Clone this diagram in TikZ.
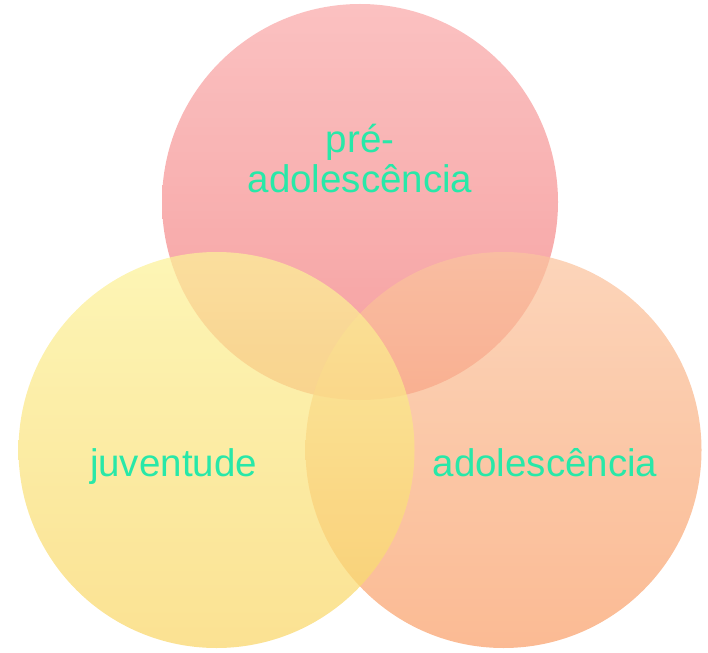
\documentclass[tikz,border=0pt]{standalone}
\usepackage{fontspec}
\setmainfont{Liberation Sans}
\usepackage{tikz}
\usetikzlibrary{shapes.geometric}
\definecolor{labelgreen}{RGB}{40,232,168}
\definecolor{pinktop}{RGB}{249,169,169}
\definecolor{pinkbot}{RGB}{242,122,122}
\definecolor{yellowtop}{RGB}{252,242,153}
\definecolor{yellowbot}{RGB}{249,214,104}
\definecolor{peachtop}{RGB}{251,196,159}
\definecolor{peachbot}{RGB}{249,160,106}
\tikzstyle{stage} = 
[
	circle, 
	minimum size = 396pt, 
	inner sep = 0pt, 
	fill opacity = 0.72
]
\tikzstyle{label} = 
	[
		text = labelgreen, 
		font = \fontsize{38.5}{40}\selectfont, 
		anchor = base, 
		inner sep = 0pt
	]

\begin{document}
\begin{tikzpicture}[x=1pt, y=-1pt]
	\useasboundingbox (0,0) rectangle (708,652);

	\node
	(PreAdolescencia)
	[
		stage,
		top color = pinktop,
		bottom color = pinkbot
	]
	at (360,202)
	{};

	\node
	(Adolescencia)
	[
		stage,
		top color = peachtop,
		bottom color = peachbot
	]
	at (503.5,450)
	{};

	\node
	(Juventude)
	[
		stage,
		top color = yellowtop,
		bottom color = yellowbot
	]
	at (216.5,450)
	{};

	\node
	(PreText)
	[
		label
	]
	at (360,153)
	{
		pré-
	};

	\node
	(PreTextTwo)
	[
		label
	]
	at (360,193)
	{
		adolescência
	};

	\node
	(JuventudeText)
	[
		label
	]
	at (173.5,476)
	{
		juventude
	};

	\node
	(AdolescenciaText)
	[
		label
	]
	at (545,476)
	{
		adolescência
	};

\end{tikzpicture}
\end{document}
